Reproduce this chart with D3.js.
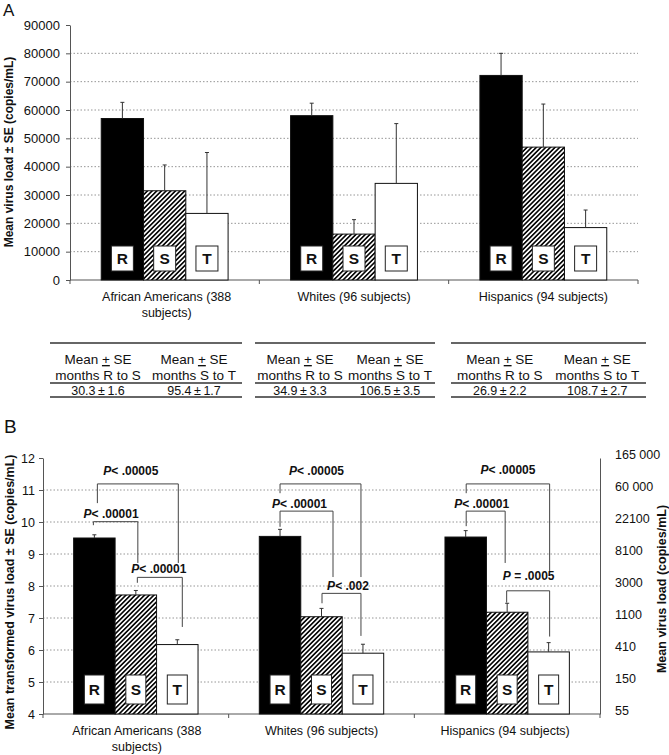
<!DOCTYPE html>
<html><head><meta charset="utf-8">
<script src="https://cdn.jsdelivr.net/npm/d3@7"></script>
<style>
body{margin:0;background:#fff}
svg{display:block}
text{font-family:"Liberation Sans",Arial,Helvetica,sans-serif;fill:#111}
</style>
</head><body>
<svg id="chart" width="669" height="755"></svg>
<script>
// ---------------- DATA ----------------
const groups = ["African Americans (388 subjects)", "Whites (96 subjects)", "Hispanics (94 subjects)"];
const groupLabelLines = [["African Americans (388", "subjects)"], ["Whites (96 subjects)"], ["Hispanics (94 subjects)"]];
const phases = ["R", "S", "T"];

// Panel A: mean virus load (copies/mL) and SE
const loadR = [57000, 58000, 72200];
const loadS = [31500, 16200, 46900];
const loadT = [23500, 34100, 18500];
const loadSeR = [5700, 4400, 7800];
const loadSeS = [9100, 5100, 15200];
const loadSeT = [21500, 21100, 6200];
const yTicksA = [0, 10000, 20000, 30000, 40000, 50000, 60000, 70000, 80000, 90000];

// Table under panel A
const tableHeaders = ["months R to S", "months S to T"];
const monthsRtoS = [30.3, 34.9, 26.9];
const seRtoS = [1.6, 3.3, 2.2];
const monthsStoT = [95.4, 106.5, 108.7];
const seStoT = [1.7, 3.5, 2.7];

// Panel B: mean transformed virus load and SE
const logR = [9.50, 9.55, 9.53];
const logS = [7.72, 7.04, 7.18];
const logT = [6.17, 5.90, 5.94];
const logSeR = [0.10, 0.22, 0.20];
const logSeS = [0.14, 0.26, 0.28];
const logSeT = [0.15, 0.28, 0.29];
const yTicksB = [4, 5, 6, 7, 8, 9, 10, 11, 12];
const rightTickLabels = ["55", "150", "410", "1100", "3000", "8100", "22100", "60 000", "165 000"];

// P values (comparisons R-T, R-S, S-T)
const pRT = ["< .00005", "< .00005", "< .00005"];
const pRS = ["< .00001", "< .00001", "< .00001"];
const pST = ["< .00001", "< .002", " = .0005"];

// ---------------- LAYOUT ----------------
const svg = d3.select("#chart");
const AXIS = "#555";
const GRID = "#8a8a8a";

const defs = svg.append("defs");
const pat = defs.append("pattern").attr("id", "hatch").attr("patternUnits", "userSpaceOnUse")
  .attr("width", 3.3).attr("height", 3.3).attr("patternTransform", "rotate(45)");
pat.append("rect").attr("width", 3.3).attr("height", 3.3).attr("fill", "#fff");
pat.append("line").attr("x1", 1.65).attr("y1", -1).attr("x2", 1.65).attr("y2", 5)
  .attr("stroke", "#000").attr("stroke-width", 1.6);
const fills = {R: "#000", S: "url(#hatch)", T: "#fff"};

function drawBarsPanel(cfg) {
  const g = svg.append("g");
  const x = d3.scaleBand().domain(groups).range([cfg.left, cfg.right]).paddingInner(0.33).paddingOuter(0.165);
  const xi = d3.scaleBand().domain(phases).range([0, x.bandwidth()]);
  const y = d3.scaleLinear().domain(cfg.domain).range([cfg.bottom, cfg.top]);

  // grid
  g.append("g").selectAll("line").data(cfg.grid).join("line")
    .attr("x1", cfg.left).attr("x2", cfg.right)
    .attr("y1", d => y(d)).attr("y2", d => y(d))
    .attr("stroke", GRID).attr("stroke-width", 0.9).attr("stroke-dasharray", "1.5,2");

  // left axis
  const ax = g.append("g").attr("transform", `translate(${cfg.left},0)`)
    .call(d3.axisLeft(y).tickValues(cfg.ticks).tickSize(4).tickSizeOuter(0).tickPadding(cfg.tickPad).tickFormat(d => d));
  ax.select(".domain").attr("stroke", AXIS);
  ax.selectAll(".tick line").attr("stroke", AXIS);
  ax.selectAll(".tick text").attr("font-size", cfg.tickFont).attr("fill", "#111")
    .style("font-family", '"Liberation Sans",Arial,sans-serif');

  // x axis line and boundary ticks
  g.append("line").attr("x1", cfg.left).attr("x2", cfg.right).attr("y1", cfg.bottom).attr("y2", cfg.bottom)
    .attr("stroke", AXIS);
  const bounds = d3.range(groups.length + 1).map(i => cfg.left + i * x.step());
  g.append("g").selectAll("line").data(bounds).join("line")
    .attr("x1", d => d).attr("x2", d => d).attr("y1", cfg.bottom).attr("y2", cfg.bottom + 4)
    .attr("stroke", AXIS);

  // bars
  const rows = [];
  groups.forEach((gr, i) => phases.forEach((p, j) => rows.push({gr, i, p, v: cfg.vals[j][i], e: cfg.errs[j][i]})));
  g.append("g").selectAll("rect").data(rows).join("rect")
    .attr("x", d => x(d.gr) + xi(d.p)).attr("width", xi.bandwidth())
    .attr("y", d => y(d.v)).attr("height", d => cfg.bottom - y(d.v))
    .attr("fill", d => fills[d.p]).attr("stroke", "#111").attr("stroke-width", 1);

  // error bars (upper only)
  const eb = g.append("g").attr("stroke", "#333").attr("stroke-width", 1);
  eb.selectAll("line.v").data(rows).join("line").attr("class", "v")
    .attr("x1", d => x(d.gr) + xi(d.p) + xi.bandwidth() / 2).attr("x2", d => x(d.gr) + xi(d.p) + xi.bandwidth() / 2)
    .attr("y1", d => y(d.v)).attr("y2", d => y(d.v + d.e));
  eb.selectAll("line.c").data(rows).join("line").attr("class", "c")
    .attr("x1", d => x(d.gr) + xi(d.p) + xi.bandwidth() / 2 - 2).attr("x2", d => x(d.gr) + xi(d.p) + xi.bandwidth() / 2 + 2)
    .attr("y1", d => y(d.v + d.e)).attr("y2", d => y(d.v + d.e));

  // letter boxes
  const lb = g.append("g").selectAll("g").data(rows).join("g")
    .attr("transform", d => `translate(${x(d.gr) + xi(d.p) + xi.bandwidth() / 2},${cfg.bottom - cfg.boxGap})`);
  lb.append("rect").attr("x", -cfg.boxW / 2).attr("y", -cfg.boxH).attr("width", cfg.boxW).attr("height", cfg.boxH)
    .attr("fill", "#fff").attr("stroke", "#222").attr("stroke-width", 1);
  lb.append("text").attr("x", 0).attr("y", -cfg.boxH / 2 + 5.3).attr("text-anchor", "middle")
    .attr("font-size", 15.5).attr("font-weight", "bold").text(d => d.p);

  // category labels
  groups.forEach((gr, i) => {
    const t = g.append("text").attr("text-anchor", "middle").attr("font-size", 12.5)
      .attr("x", x(gr) + x.bandwidth() / 2 + cfg.labDx[i]).attr("y", cfg.labY);
    groupLabelLines[i].forEach((ln, k) => t.append("tspan")
      .attr("x", x(gr) + x.bandwidth() / 2 + cfg.labDx[i]).attr("dy", k === 0 ? 0 : 16).text(ln));
  });

  // y title
  g.append("text").attr("transform", `translate(${cfg.titleX},${cfg.titleY}) rotate(-90)`)
    .attr("text-anchor", "middle").attr("font-size", cfg.titleFont).attr("font-weight", "bold").text(cfg.title);

  return {x, xi, y, g};
}

// ---------- Panel A ----------
svg.append("text").attr("x", 3).attr("y", 16).attr("font-size", 17).text("A");
const PA = drawBarsPanel({
  left: 70, right: 638, top: 25, bottom: 280, domain: [0, 90000],
  ticks: yTicksA, grid: yTicksA.filter(d => d > 0 && d < 90000), tickPad: 6, tickFont: 13,
  vals: [loadR, loadS, loadT], errs: [loadSeR, loadSeS, loadSeT],
  boxW: 22, boxH: 25, boxGap: 9,
  labY: 301, labDx: [2, 0, 0],
  title: "Mean virus load \u00b1 SE (copies/mL)", titleX: 13, titleY: 152, titleFont: 12
});

// ---------- Table ----------
const tableSpans = [[50, 242], [255, 435], [451, 646]];
const tg = svg.append("g");
tableSpans.forEach((sp, i) => {
  [343, 383, 397].forEach(yy => tg.append("line").attr("x1", sp[0]).attr("x2", sp[1]).attr("y1", yy).attr("y2", yy)
    .attr("stroke", "#333").attr("stroke-width", 1.3));
  const w = (sp[1] - sp[0]) / 2;
  const cols = [sp[0] + w / 2, sp[0] + 1.5 * w];
  const vals = [[monthsRtoS[i], seRtoS[i]], [monthsStoT[i], seStoT[i]]];
  cols.forEach((cx, k) => {
    const h = tg.append("text").attr("x", cx).attr("y", 364).attr("text-anchor", "middle").attr("font-size", 13.5);
    h.append("tspan").text("Mean ");
    h.append("tspan").style("text-decoration", "underline").text("+");
    h.append("tspan").text(" SE");
    tg.append("text").attr("x", cx).attr("y", 379.5).attr("text-anchor", "middle").attr("font-size", 13.5).text(tableHeaders[k]);
    tg.append("text").attr("x", cx).attr("y", 394.5).attr("text-anchor", "middle").attr("font-size", 12.5)
      .text(`${vals[k][0].toFixed(1)}\u2009\u00b1\u2009${vals[k][1].toFixed(1)}`);
  });
});

// ---------- Panel B ----------
svg.append("text").attr("x", 4).attr("y", 433).attr("font-size", 19).text("B");
const PB = drawBarsPanel({
  left: 43, right: 600, top: 458, bottom: 714, domain: [4, 12],
  ticks: yTicksB, grid: yTicksB.filter(d => d > 4 && d < 12), tickPad: 4, tickFont: 12.5,
  vals: [logR, logS, logT], errs: [logSeR, logSeS, logSeT],
  boxW: 20, boxH: 29, boxGap: 10,
  labY: 735, labDx: [1, 0, -2],
  title: "Mean transformed virus load \u00b1 SE (copies/mL)", titleX: 13.5, titleY: 592, titleFont: 12.5
});

// right axis
const rax = svg.append("g").attr("transform", "translate(600,0)")
  .call(d3.axisRight(PB.y).tickValues(yTicksB).tickSize(0).tickSizeOuter(0).tickPadding(15)
    .tickFormat((d, i) => rightTickLabels[i]));
rax.select(".domain").attr("stroke", AXIS);
rax.selectAll(".tick text").attr("font-size", 12.5).attr("dy", "0.05em").attr("fill", "#111")
  .style("font-family", '"Liberation Sans",Arial,sans-serif');
svg.append("text").attr("transform", "translate(665.5,589) rotate(-90)").attr("text-anchor", "middle")
  .attr("font-size", 12.5).attr("font-weight", "bold").text("Mean virus load (copies/mL)");

// significance brackets (layout only; labels from data arrays)
const bracketLayout = [
  {g: 0, a: "R", b: "T", p: pRT, lvl: 11.19, endA: 10.59, endB: 8.72, dxA: 3, dxB: 1, tdx: -7, gap: 8.7},
  {g: 0, a: "R", b: "S", p: pRS, lvl: 10.01, endA: 9.90, endB: 8.72, dxA: -1, dxB: 2, tdx: -4.5, gap: 4},
  {g: 0, a: "S", b: "T", p: pST, lvl: 8.27, endA: 8.10, endB: 6.72, dxA: 1.5, dxB: 5, tdx: -1, gap: 4},
  {g: 1, a: "R", b: "T", p: pRT, lvl: 11.19, endA: 10.90, endB: 8.28, dxA: 0, dxB: -2, tdx: -4, gap: 8.7},
  {g: 1, a: "R", b: "S", p: pRS, lvl: 10.34, endA: 9.85, endB: 8.28, dxA: 0, dxB: 11.5, tdx: -7, gap: 3.4},
  {g: 1, a: "S", b: "T", p: pST, lvl: 7.77, endA: 7.46, endB: 6.44, dxA: 0.5, dxB: -2, tdx: 6.5, gap: 3},
  {g: 2, a: "R", b: "T", p: pRT, lvl: 11.19, endA: 10.90, endB: 8.44, dxA: 0.5, dxB: 1, tdx: 0, gap: 9.7},
  {g: 2, a: "R", b: "S", p: pRS, lvl: 10.34, endA: 9.87, endB: 8.72, dxA: 0.5, dxB: -2, tdx: -4, gap: 3.4},
  {g: 2, a: "S", b: "T", p: pST, lvl: 7.85, endA: 7.48, endB: 6.42, dxA: -0.5, dxB: 1, tdx: 0.5, gap: 10.4}
];
const bg = svg.append("g");
bracketLayout.forEach(b => {
  const gr = groups[b.g];
  const cx = p => PB.x(gr) + PB.xi(p) + PB.xi.bandwidth() / 2;
  const xa = cx(b.a) + b.dxA, xb = cx(b.b) + b.dxB, yl = PB.y(b.lvl);
  bg.append("path")
    .attr("d", `M${xa},${PB.y(b.endA)}V${yl}H${xb}V${PB.y(b.endB)}`)
    .attr("fill", "none").attr("stroke", "#444").attr("stroke-width", 1);
  const t = bg.append("text").attr("x", (xa + xb) / 2 + b.tdx).attr("y", yl - b.gap)
    .attr("text-anchor", "middle").attr("font-size", 12).attr("font-weight", "bold")
    .attr("xml:space", "preserve").style("white-space", "pre");
  t.append("tspan").attr("font-style", "italic").text("P");
  t.append("tspan").text(b.p[b.g]);
});
</script>
</body></html>
